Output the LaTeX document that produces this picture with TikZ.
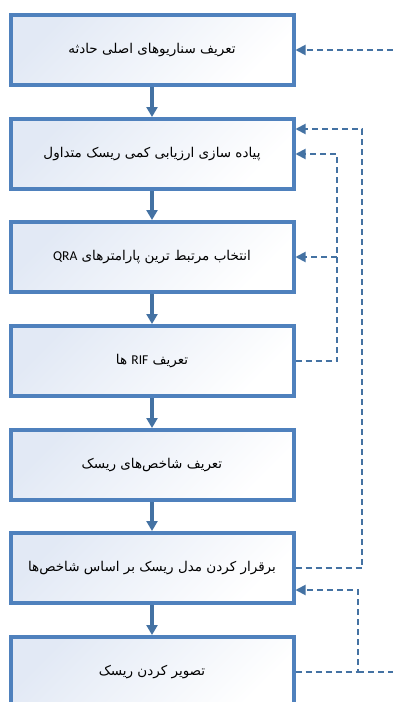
\documentclass[tikz,border=0pt]{standalone}
\usepackage{fontspec}
\newfontfamily\farsi[Script=Arabic]{DejaVu Sans}
\newfontfamily\latin{Carlito}
\TeXXeTstate=1
\usetikzlibrary{arrows.meta,calc,positioning}
\definecolor{boxblue}{RGB}{79,129,189}
\definecolor{linkblue}{RGB}{68,114,163}
\definecolor{boxfill}{RGB}{226,233,245}

\begin{document}
\begin{tikzpicture}[x=1pt,y=-1pt,
	stage/.style={rectangle,draw=boxblue,line width=4pt,minimum width=283pt,minimum height=70pt,
		top color=boxfill,bottom color=white,shading angle=45,
		font=\farsi\fontsize{13.5}{16}\selectfont},
	flow/.style={draw=linkblue,line width=3.5pt,-{Triangle[length=10pt,width=11pt]}},
	back/.style={draw=linkblue,line width=1.9pt,dash pattern=on 6pt off 4pt,-{Triangle[length=10pt,width=10pt]}}]
		
		\useasboundingbox (0,0) rectangle (393,702);
		
		\node[stage] (S1) at (152,50) {\beginR تعریف سناریوهای اصلی حادثه\endR};
		\node[stage] (S2) at (152,154) {\beginR پیاده سازی ارزیابی کمی ریسک متداول\endR};
		\node[stage] (S3) at (152,257) {\beginR انتخاب مرتبط ترین پارامترهای \beginL{\latin QRA}\endL\endR};
		\node[stage] (S4) at (152,361) {\beginR تعریف \beginL{\latin RIF}\endL{} ها\endR};
		\node[stage] (S5) at (152,465) {\beginR تعریف شاخص‌های ریسک\endR};
		\node[stage] (S6) at (152,568) {\beginR برقرار کردن مدل ریسک بر اساس شاخص‌ها\endR};
		\node[stage] (S7) at (152,672) {\beginR تصویر کردن ریسک\endR};
		
		\draw[flow] (S1) -- (S2);
		\draw[flow] (S2) -- (S3);
		\draw[flow] (S3) -- (S4);
		\draw[flow] (S4) -- (S5);
		\draw[flow] (S5) -- (S6);
		\draw[flow] (S6) -- (S7);
		
		% feedback from the right
		\coordinate (Right S1) at (393,50);
		\draw[back] (Right S1) -- (S1.east);
		
		\coordinate (Outer) at ($(S2.east)+(66.5,-25)$);
		\draw[back] (S6.east) -| (Outer) -- ($(S2.east)+(0,-25)$);
		
		\coordinate (Inner S2) at ($(S2.east)+(41.5,0)$);
		\coordinate (Inner S3) at ($(S3.east)+(41.5,0)$);
		\draw[back] (S4.east) -| (Inner S2) -- (S2.east);
		\draw[back] (Inner S3) -- (S3.east);
		
		\coordinate (Corner S6) at ($(S6.east)+(62.5,22)$);
		\coordinate (Right S7) at (393,672);
		\draw[back] (S7.east) -| (Corner S6) -- ($(S6.east)+(0,22)$);
		\draw[back,-] (S7.east -| Corner S6) -- (Right S7);
		
		\end{tikzpicture}
\end{document}
